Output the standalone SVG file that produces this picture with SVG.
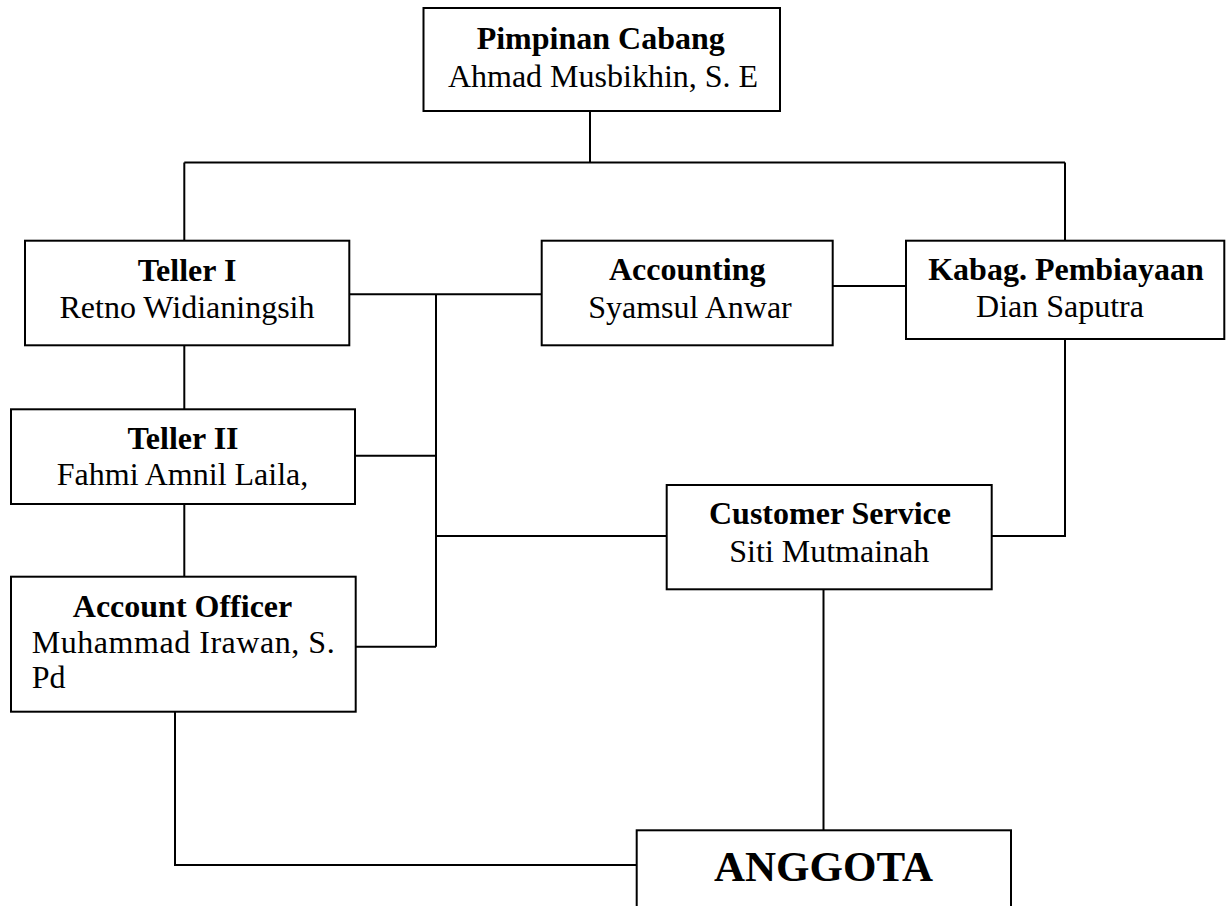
<svg xmlns="http://www.w3.org/2000/svg" width="1230" height="906" viewBox="0 0 1230 906">
<style>
rect.box{fill:#fff;stroke:#000;stroke-width:2}
.conn line, .conn polyline{stroke:#000;stroke-width:2;fill:none}
text{font-family:"Liberation Serif","Times New Roman",serif;font-size:32px;fill:#000}
.t{font-weight:bold;text-anchor:middle}
.n{text-anchor:middle}
.big{font-size:43px;font-weight:bold;text-anchor:middle}
</style>
<rect width="1230" height="906" fill="#fff"/>
<g class="conn">
<line x1="590" y1="111" x2="590" y2="162.5"/>
<line x1="184.3" y1="162.5" x2="1065" y2="162.5"/>
<line x1="184.3" y1="162.5" x2="184.3" y2="240.7"/>
<line x1="1065" y1="162.5" x2="1065" y2="240.7"/>
<line x1="349.3" y1="294.3" x2="541.7" y2="294.3"/>
<line x1="832.7" y1="286" x2="906" y2="286"/>
<line x1="436" y1="294.3" x2="436" y2="646.7"/>
<line x1="355" y1="455.7" x2="436" y2="455.7"/>
<line x1="436" y1="536" x2="666.7" y2="536"/>
<line x1="355.7" y1="646.7" x2="436" y2="646.7"/>
<line x1="184.3" y1="345.3" x2="184.3" y2="409.3"/>
<line x1="184.3" y1="504" x2="184.3" y2="576.7"/>
<polyline points="1065,339 1065,536 991.7,536"/>
<line x1="823.5" y1="589.3" x2="823.5" y2="830.3"/>
<polyline points="175,711.7 175,865 636.7,865"/>
</g>
<g id="pimpinan">
<rect class="box" x="423.5" y="8" width="356.5" height="103"/>
<text class="t" x="600.7" y="49">Pimpinan Cabang</text>
<text class="n" x="603" y="87">Ahmad Musbikhin, S. E</text>
</g>
<g id="teller1">
<rect class="box" x="25" y="240.7" width="324.3" height="104.6"/>
<text class="t" x="187" y="281">Teller I</text>
<text class="n" x="187" y="318.3">Retno Widianingsih</text>
</g>
<g id="accounting">
<rect class="box" x="541.7" y="240.7" width="291" height="104.6"/>
<text class="t" x="687.2" y="280">Accounting</text>
<text class="n" x="690" y="318.3">Syamsul Anwar</text>
</g>
<g id="kabag">
<rect class="box" x="906" y="240.7" width="318.3" height="98.3"/>
<text class="t" x="1066" y="280">Kabag. Pembiayaan</text>
<text class="n" x="1060" y="316.7">Dian Saputra</text>
</g>
<g id="teller2">
<rect class="box" x="11" y="409.3" width="344" height="94.7"/>
<text class="t" x="183" y="449">Teller II</text>
<text class="n" x="182.5" y="485">Fahmi Amnil Laila,</text>
</g>
<g id="customer-service">
<rect class="box" x="666.7" y="485" width="325" height="104.3"/>
<text class="t" x="830" y="524.3">Customer Service</text>
<text class="n" x="829.3" y="561.7">Siti Mutmainah</text>
</g>
<g id="account-officer">
<rect class="box" x="11" y="576.7" width="344.7" height="135"/>
<text class="t" x="182.5" y="616.7">Account Officer</text>
<text x="31.7" y="653.3" textLength="303" lengthAdjust="spacing">Muhammad Irawan, S.</text>
<text x="31.7" y="688.3">Pd</text>
</g>
<g id="anggota">
<rect class="box" x="636.7" y="830.3" width="374.3" height="100"/>
<text class="big" x="823.5" y="881">ANGGOTA</text>
</g>
</svg>
